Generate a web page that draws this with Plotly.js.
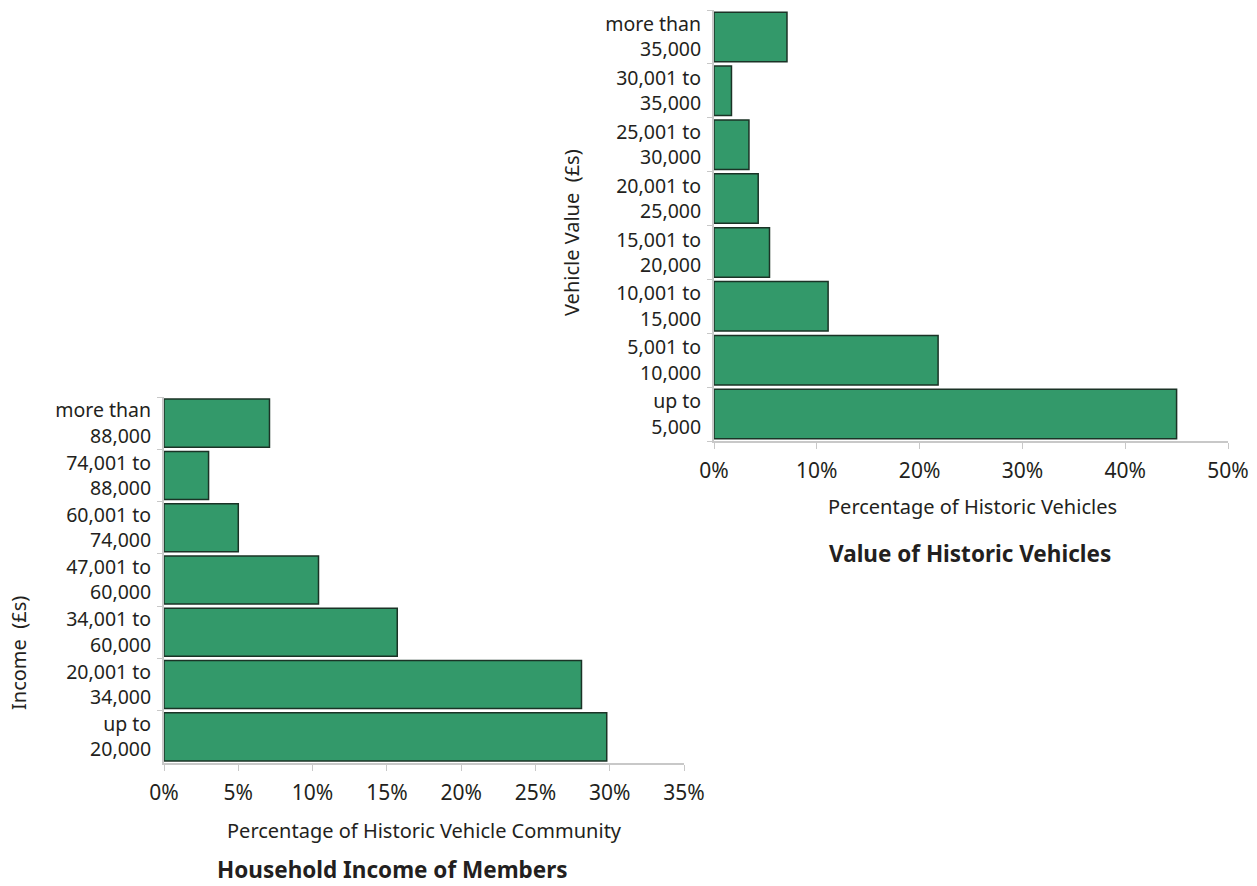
<!DOCTYPE html>
<html>
<head>
<meta charset="utf-8">
<script src="https://cdn.plot.ly/plotly-3.0.1.min.js"></script>
<style>html,body{margin:0;padding:0;background:#fff;}#chart{width:1257px;height:886px;}</style>
</head>
<body>
<div id="chart"></div>
<script>
// Household income of members (bottom to top)
const incomeCategories = ["up to<br>20,000", "20,001 to<br>34,000", "34,001 to<br>60,000", "47,001 to<br>60,000", "60,001 to<br>74,000", "74,001 to<br>88,000", "more than<br>88,000"];
const incomeValues = [29.8, 28.1, 15.7, 10.4, 5.0, 3.0, 7.1];
const incomeTicks = [0, 5, 10, 15, 20, 25, 30, 35];
const incomeTickLabels = ["0%", "5%", "10%", "15%", "20%", "25%", "30%", "35%"];

// Value of historic vehicles (bottom to top)
const valueCategories = ["up to<br>5,000", "5,001 to<br>10,000", "10,001 to<br>15,000", "15,001 to<br>20,000", "20,001 to<br>25,000", "25,001 to<br>30,000", "30,001 to<br>35,000", "more than<br>35,000"];
const valueValues = [45.0, 21.8, 11.1, 5.4, 4.3, 3.4, 1.7, 7.1];
const valueTicks = [0, 10, 20, 30, 40, 50];
const valueTickLabels = ["0%", "10%", "20%", "30%", "40%", "50%"];

const W = 1257, H = 886;
const px = x => x / W;
const py = y => 1 - y / H;

const FONT = "Noto Sans, Open Sans, sans-serif";
const TXT = "#231f20";
const GREEN = "#33996a";
const EDGE = "#1b3326";
const AXC = "#c8c8c8";

const barStyle = {color: GREEN, line: {color: EDGE, width: 1.5}};

const traces = [
  {type: "bar", orientation: "h", x: incomeValues, y: incomeCategories, xaxis: "x", yaxis: "y",
   marker: barStyle, hoverinfo: "x+y"},
  {type: "bar", orientation: "h", x: valueValues, y: valueCategories, xaxis: "x2", yaxis: "y2",
   marker: barStyle, hoverinfo: "x+y"}
];

const xCommon = {showgrid: false, zeroline: false, showline: true, linecolor: AXC, linewidth: 2,
  ticks: "outside", ticklen: 6, tickwidth: 1, tickcolor: AXC, tickmode: "array",
  tickfont: {family: FONT, size: 21, color: TXT}, ticklabelstandoff: 4, fixedrange: true};
const yCommon = {type: "category", showgrid: false, zeroline: false, showline: true, linecolor: AXC, linewidth: 2,
  ticks: "outside", ticklen: 5, tickwidth: 1, tickcolor: AXC, tickson: "boundaries",
  tickfont: {family: FONT, size: 19.5, color: TXT}, ticklabelstandoff: 7, fixedrange: true};

const titleFont = {family: FONT, size: 20, color: TXT};
const headFont = {family: FONT, size: 22.5, color: TXT};

const layout = {
  width: W, height: H,
  margin: {l: 0, r: 0, t: 0, b: 0},
  paper_bgcolor: "#ffffff", plot_bgcolor: "#ffffff",
  showlegend: false,
  bargap: 0.08,
  font: {family: FONT, color: TXT},
  xaxis: Object.assign({}, xCommon, {domain: [px(164), px(684)], range: [0, 35], tickvals: incomeTicks, ticktext: incomeTickLabels, anchor: "y"}),
  yaxis: Object.assign({}, yCommon, {domain: [py(763), py(397)], anchor: "x", range: [-0.5, 6.5]}),
  xaxis2: Object.assign({}, xCommon, {domain: [px(714), px(1228)], range: [0, 50], tickvals: valueTicks, ticktext: valueTickLabels, anchor: "y2"}),
  yaxis2: Object.assign({}, yCommon, {domain: [py(441), py(10)], anchor: "x2", range: [-0.5, 7.5]}),
  annotations: [
    {text: "Income&nbsp; (£s)", textangle: -90, xref: "paper", yref: "paper", x: px(18), y: py(653),
     xanchor: "center", yanchor: "middle", showarrow: false, font: titleFont},
    {text: "Vehicle Value&nbsp; (£s)", textangle: -90, xref: "paper", yref: "paper", x: px(572), y: py(233),
     xanchor: "center", yanchor: "middle", showarrow: false, font: titleFont},
    {text: "Percentage of Historic Vehicle Community", xref: "paper", yref: "paper", x: px(424), y: py(830),
     xanchor: "center", yanchor: "middle", showarrow: false, font: titleFont},
    {text: "Percentage of Historic Vehicles", xref: "paper", yref: "paper", x: px(972), y: py(506),
     xanchor: "center", yanchor: "middle", showarrow: false, font: titleFont},
    {text: "<b>Household Income of Members</b>", xref: "paper", yref: "paper", x: px(392), y: py(869),
     xanchor: "center", yanchor: "middle", showarrow: false, font: headFont},
    {text: "<b>Value of Historic Vehicles</b>", xref: "paper", yref: "paper", x: px(970), y: py(553),
     xanchor: "center", yanchor: "middle", showarrow: false, font: headFont}
  ]
};

Plotly.newPlot("chart", traces, layout, {displayModeBar: false, staticPlot: true});
</script>
</body>
</html>
